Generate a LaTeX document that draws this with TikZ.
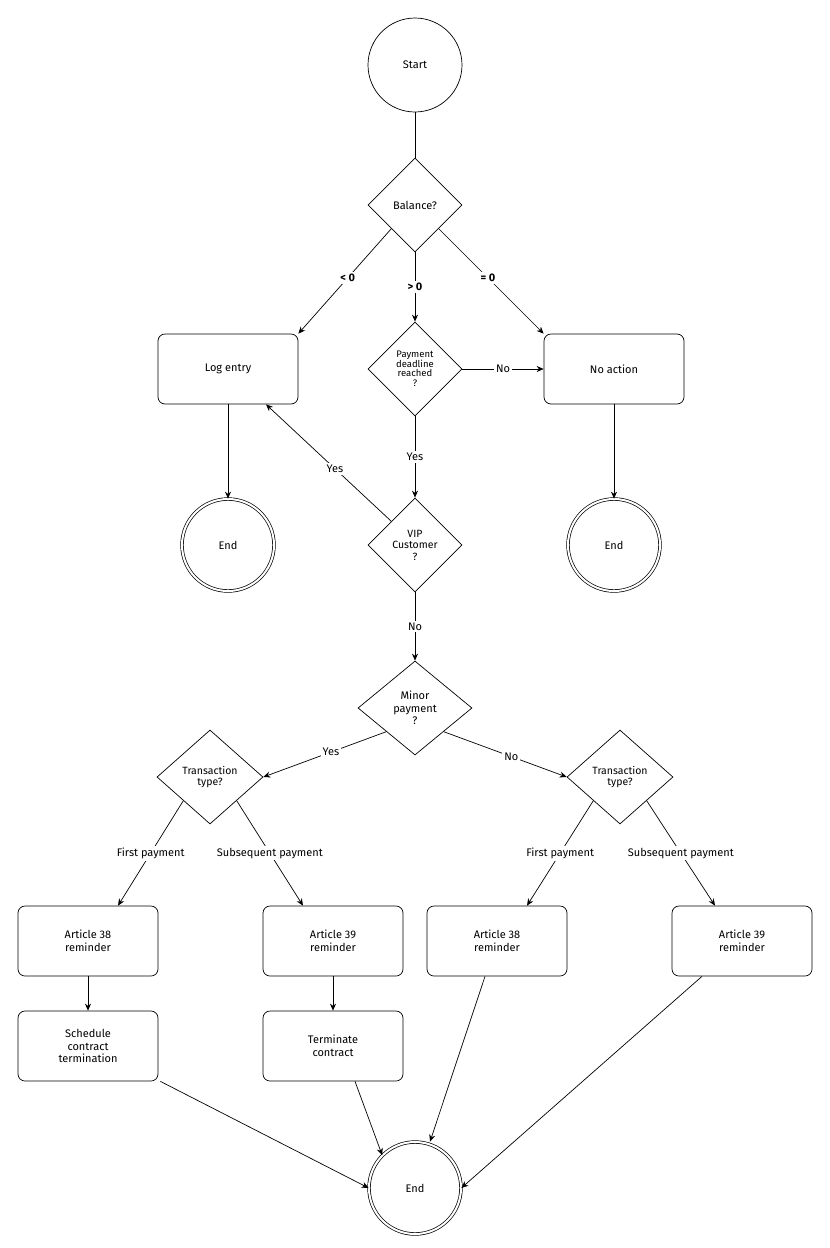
\documentclass[tikz,border=0pt]{standalone}
\usepackage{fontspec}
\setmainfont{Fira Sans}
\usetikzlibrary{shapes.geometric,arrows.meta}
\begin{document}
\begin{tikzpicture}[x=1pt,y=-1pt,
  every node/.style={font=\fontsize{11}{12.5}\selectfont},
  box/.style={draw,rounded corners=7pt,minimum width=140pt,minimum height=70pt,align=center,inner sep=2pt},
  circ/.style={draw,circle,minimum size=94pt,inner sep=0},
  dcirc/.style={draw,circle,double,double distance=2pt,minimum size=92pt,inner sep=0},
  dia/.style={draw,diamond,minimum width=94pt,minimum height=94pt,inner sep=0,align=center},
  lbl/.style={fill=white,inner sep=2pt},
  arr/.style={-{Stealth[length=7pt,width=6pt]}},
  line width=0.7pt]
\useasboundingbox (0,0) rectangle (830,1248);
\node[circ] (start) at (415,65) {Start};
\node[dia] (bal) at (415,205) {Balance?};
\node[box] (log) at (228,369) {Log entry};
\node[dia,font=\fontsize{9.5}{9.5}\selectfont] (pay) at (415,369) {Payment\\deadline\\reached\\?};
\node[box] (noact) at (614,369) {No action};
\node[dcirc] (end1) at (228,545) {End};
\node[dcirc] (end2) at (614,545) {End};
\node[dia,font=\fontsize{10.5}{11.5}\selectfont] (vip) at (415,545) {VIP\\Customer\\?};
\node[dia,minimum width=114pt] (minor) at (415,708) {Minor\\payment\\?};
\node[dia,minimum width=106pt,font=\fontsize{10.5}{11}\selectfont] (tl) at (210,777) {Transaction\\type?};
\node[dia,minimum width=106pt,font=\fontsize{10.5}{11}\selectfont] (tr) at (620,777) {Transaction\\type?};
\node[box] (a38l) at (88,941) {Article 38\\reminder};
\node[box] (a39l) at (333,941) {Article 39\\reminder};
\node[box] (a38r) at (497,941) {Article 38\\reminder};
\node[box] (a39r) at (742,941) {Article 39\\reminder};
\node[box] (sched) at (88,1046) {Schedule\\contract\\termination};
\node[box] (term) at (333,1046) {Terminate\\contract};
\node[dcirc] (end3) at (415,1188) {End};

\draw (start) -- (bal);
\draw[arr] (bal.south west) -- (log.north east) node[lbl,pos=0.47,font=\bfseries\fontsize{11}{12}\selectfont]{< 0};
\draw[arr] (bal) -- (pay) node[lbl,midway,font=\bfseries\fontsize{11}{12}\selectfont]{> 0};
\draw[arr] (bal.south east) -- (noact.north west) node[lbl,pos=0.47,font=\bfseries\fontsize{11}{12}\selectfont]{= 0};
\draw[arr] (pay) -- (noact) node[lbl,midway]{No};
\draw[arr] (pay) -- (vip) node[lbl,midway]{Yes};
\draw[arr] (vip.north west) -- ([xshift=38pt]log.south) node[lbl,pos=0.45]{Yes};
\draw[arr] (log) -- (end1);
\draw[arr] (noact) -- (end2);
\draw[arr] (vip) -- (minor) node[lbl,midway]{No};
\draw[arr] (minor.south west) -- (tl.east) node[lbl,pos=0.45]{Yes};
\draw[arr] (minor.south east) -- (tr.west) node[lbl,pos=0.55]{No};
\draw[arr] (tl.south west) -- ([xshift=30pt]a38l.north) node[lbl,pos=0.5]{First payment};
\draw[arr] (tl.south east) -- ([xshift=-30pt]a39l.north) node[lbl,pos=0.5]{Subsequent payment};
\draw[arr] (tr.south west) -- ([xshift=30pt]a38r.north) node[lbl,pos=0.5]{First payment};
\draw[arr] (tr.south east) -- ([xshift=-27pt]a39r.north) node[lbl,pos=0.5]{Subsequent payment};
\draw[arr] (a38l) -- (sched);
\draw[arr] (a39l) -- (term);
\draw[arr] ([xshift=2pt]sched.south east) -- (end3.west);
\draw[arr] ([xshift=22pt]term.south) -- (end3.north west);
\draw[arr] ([xshift=-12pt]a38r.south) -- ([xshift=15pt]end3.north);
\draw[arr] ([xshift=-40pt]a39r.south) -- (end3.east);
\end{tikzpicture}
\end{document}
